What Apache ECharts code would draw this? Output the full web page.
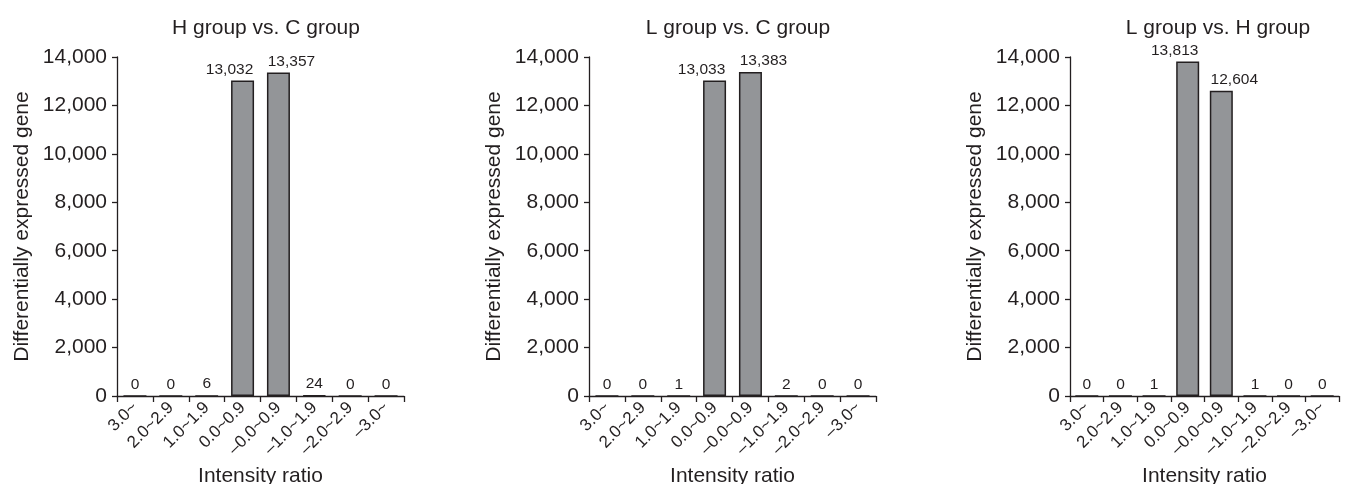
<!DOCTYPE html>
<html>
<head>
<meta charset="utf-8">
<script src="https://cdn.jsdelivr.net/npm/echarts@6/dist/echarts.min.js"></script>
<style>
  html, body { margin: 0; padding: 0; background: #fff; }
  #chart { width: 1349px; height: 484px; }
</style>
</head>
<body>
<div id="chart"></div>
<script>
  const categories = ['3.0~', '2.0~2.9', '1.0~1.9', '0.0~0.9', '–0.0~0.9', '–1.0~1.9', '–2.0~2.9', '–3.0~']
  const titles = ['H group vs. C group', 'L group vs. C group', 'L group vs. H group']
  const hVsC = [0, 0, 6, 13032, 13357, 24, 0, 0]
  const lVsC = [0, 0, 1, 13033, 13383, 2, 0, 0]
  const lVsH = [0, 0, 1, 13813, 12604, 1, 0, 0]
  const yTicks = [0, 2000, 4000, 6000, 8000, 10000, 12000, 14000]

  const panelData = [hVsC, lVsC, lVsH]
  const ink = '#231f20'
  const font = '"Liberation Sans", Arial, sans-serif'
  // grid boxes
  const grids = [
    { left: 117, top: 57, width: 287, height: 339 },
    { left: 589, top: 57, width: 287, height: 339 },
    { left: 1070, top: 57, width: 269, height: 339 },
  ]
  const titleX = [261, 733, 1213]
  const fmt = v => Number(v).toLocaleString('en-US')
  // the two tall bars have their labels pushed apart so they don't collide
  const labelShift = { 3: [-13, 0], 4: [13, 0] }

  const myChart = echarts.init(document.getElementById('chart'))

  const option = {
    animation: false,
    backgroundColor: '#fff',
    textStyle: { fontFamily: font, color: ink },
    title: titles.map((t, i) => ({
      text: t,
      left: titleX[i],
      top: 13,
      textAlign: 'center',
      textStyle: { fontFamily: font, fontSize: 21, fontWeight: 'normal', color: ink },
    })),
    grid: grids.map(g => ({ ...g, containLabel: false, outerBoundsMode: 'none' })),
    xAxis: grids.map((g, i) => ({
      type: 'category',
      gridIndex: i,
      data: categories,
      name: 'Intensity ratio',
      nameLocation: 'middle',
      nameGap: 70,
      nameTextStyle: { fontSize: 21, color: ink, fontFamily: font },
      axisLine: { lineStyle: { color: ink, width: 1.3 } },
      axisTick: { show: true, length: 6, lineStyle: { color: ink, width: 1.3 } },
      axisLabel: { interval: 0, rotate: 45, fontSize: 17, color: ink, margin: 9, fontFamily: font },
      splitLine: { show: false },
    })),
    yAxis: grids.map((g, i) => ({
      type: 'value',
      gridIndex: i,
      min: yTicks[0],
      max: yTicks[yTicks.length - 1],
      interval: yTicks[1] - yTicks[0],
      name: 'Differentially expressed gene',
      nameLocation: 'middle',
      nameGap: 84,
      nameTextStyle: { fontSize: 21, color: ink, fontFamily: font },
      axisLine: { show: true, lineStyle: { color: ink, width: 1.3 } },
      axisTick: { show: true, length: 5, lineStyle: { color: ink, width: 1.3 } },
      axisLabel: { fontSize: 21, color: ink, margin: 10, formatter: fmt, fontFamily: font },
      splitLine: { show: false },
    })),
    series: panelData.map((d, i) => ({
      type: 'bar',
      xAxisIndex: i,
      yAxisIndex: i,
      data: d.map((v, j) => (labelShift[j] ? { value: v, label: { offset: labelShift[j] } } : v)),
      barWidth: 23,
      itemStyle: { color: '#939598', borderColor: ink, borderWidth: 1.5 },
      label: {
        show: true,
        position: 'top',
        distance: 3,
        fontSize: 15.5,
        color: ink,
        fontFamily: font,
        formatter: p => fmt(p.value),
      },
    })),
  }

  myChart.setOption(option)
</script>
</body>
</html>
